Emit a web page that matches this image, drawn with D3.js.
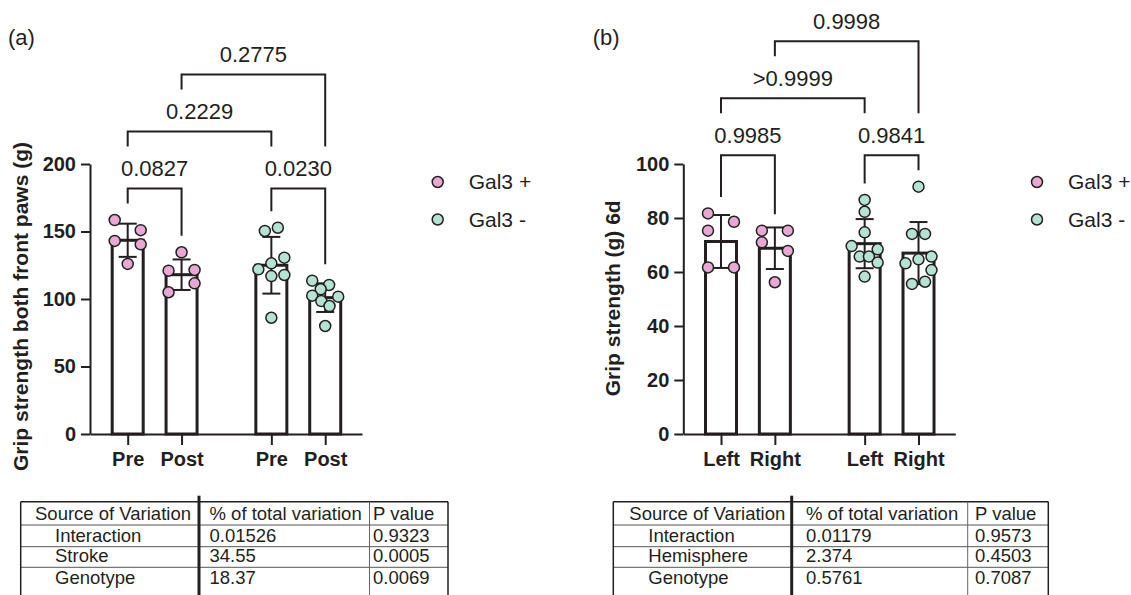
<!DOCTYPE html>
<html><head><meta charset="utf-8">
<script src="https://cdn.jsdelivr.net/npm/d3@7"></script>
<style>
body{margin:0;background:#fff}
svg{display:block}
text{font-family:"Liberation Sans",Arial,sans-serif;fill:#231f20}
</style>
</head><body>
<svg id="c" width="1131" height="595"></svg>
<script>
// ---------- DATA ----------
const genotypes = ["Gal3 +", "Gal3 -"];

// Panel (a)
const catsA = ["Pre", "Post", "Pre", "Post"];
const genoA = ["Gal3 +", "Gal3 +", "Gal3 -", "Gal3 -"];
const meansA = [143.5, 118, 125, 101];
const sdsA = [12.3, 11.3, 21, 10.6];
const pointsA = [
  [158.5, 151, 143, 140.5, 126],
  [134.6, 121, 121.5, 111.6, 105],
  [152.8, 150.4, 130.6, 126.4, 122, 117.8, 117, 86.1],
  [113.6, 110.4, 107.2, 101.7, 102.5, 98.5, 94.8, 80]
];
const jitterA = [
  [-1, 1, -1, 1, 0],
  [0, -1, 1, 1, -1],
  [0.5, -0.5, 1, 0, -1, 1, 0, 0],
  [-1, 0.3, -0.35, 1, -1, -0.3, 0.33, 0]
];
const ticksA = [0, 50, 100, 150, 200];
const compPairsA = [[0, 1], [2, 3], [0, 2], [1, 3]];
const compLabelsA = ["0.0827", "0.0230", "0.2229", "0.2775"];
const compLevelsA = [0, 0, 1, 2];

// Panel (b)
const catsB = ["Left", "Right", "Left", "Right"];
const genoB = ["Gal3 +", "Gal3 +", "Gal3 -", "Gal3 -"];
const meansB = [71.3, 68.8, 70.5, 67];
const sdsB = [9.8, 7.7, 9.1, 11.5];
const pointsB = [
  [81.7, 78.6, 75.3, 61.7, 61.7],
  [75.3, 75.3, 71, 67.8, 56.2],
  [86.7, 82.3, 74.7, 69.6, 68.4, 65.7, 65.7, 63.5, 58.3],
  [91.6, 74.1, 74.1, 65.7, 64.7, 63.2, 60.7, 56.4, 55.6]
];
const jitterB = [
  [-1, 1, -1, -1, 1],
  [-1, 1, -1, 1, 0],
  [0, 0, 0, -1, 1, -0.38, 0.33, 1, 0],
  [0, -0.5, 0.5, 1, 0, -1, 1, 0.5, -0.5]
];
const ticksB = [0, 20, 40, 60, 80, 100];
const compPairsB = [[0, 1], [2, 3], [0, 2], [1, 3]];
const compLabelsB = ["0.9985", "0.9841", ">0.9999", "0.9998"];
const compLevelsB = [0, 0, 1, 2];

// Tables
const tableHeader = ["Source of Variation", "% of total variation", "P value"];
const tableARows = [["Interaction", "0.01526", "0.9323"], ["Stroke", "34.55", "0.0005"], ["Genotype", "18.37", "0.0069"]];
const tableBRows = [["Interaction", "0.01179", "0.9573"], ["Hemisphere", "2.374", "0.4503"], ["Genotype", "0.5761", "0.7087"]];

// ---------- STYLE / LAYOUT ----------
const INK = "#231f20";
const color = d3.scaleOrdinal().domain(genotypes).range(["#e7a9d3", "#b5e2d2"]);
const GROUP_GAP = 0.667;
const Y0 = 434, Y1 = 164;
const R = 5.5, JIT = 13;

const svg = d3.select("#c");

function panel(cfg) {
  const g = svg.append("g");
  const x = d3.scaleLinear().domain([-0.7, 4.35]).range([cfg.x0, cfg.x0 + 272]);
  const y = d3.scaleLinear().domain([0, cfg.yMax]).range([Y0, Y1]);
  const pos = i => i + (i >= 2 ? GROUP_GAP : 0);
  const n = cfg.cats.length;
  const idx = d3.range(n);

  // bars
  g.selectAll("rect.bar").data(idx).join("rect")
    .attr("x", i => x(pos(i)) - 15.5)
    .attr("width", 31)
    .attr("y", i => y(cfg.means[i]))
    .attr("height", i => Y0 - y(cfg.means[i]))
    .attr("fill", "#fff").attr("stroke", INK).attr("stroke-width", 3);

  // error bars
  const eb = g.selectAll("g.eb").data(idx).join("g");
  eb.append("line")
    .attr("x1", i => x(pos(i))).attr("x2", i => x(pos(i)))
    .attr("y1", i => y(cfg.means[i] - cfg.sds[i])).attr("y2", i => y(cfg.means[i] + cfg.sds[i]))
    .attr("stroke", INK).attr("stroke-width", 2);
  [1, -1].forEach(s => {
    eb.append("line")
      .attr("x1", i => x(pos(i)) - 9).attr("x2", i => x(pos(i)) + 9)
      .attr("y1", i => y(cfg.means[i] + s * cfg.sds[i])).attr("y2", i => y(cfg.means[i] + s * cfg.sds[i]))
      .attr("stroke", INK).attr("stroke-width", 2);
  });

  // axes
  const ya = g.append("g").attr("transform", `translate(${cfg.x0},0)`)
    .call(d3.axisLeft(y).tickValues(cfg.ticks).tickSize(9).tickSizeOuter(0).tickPadding(5));
  const xa = g.append("g").attr("transform", `translate(0,${Y0})`)
    .call(d3.axisBottom(x).tickValues(idx.map(pos)).tickFormat((d, i) => cfg.cats[i]).tickSize(11).tickSizeOuter(0));
  [ya, xa].forEach(a => {
    a.select(".domain").attr("stroke", INK).attr("stroke-width", 2);
    a.selectAll(".tick line").attr("stroke", INK).attr("stroke-width", 2);
    a.selectAll(".tick text").attr("font-size", 20).attr("font-weight", "bold")
      .attr("font-family", '"Liberation Sans",Arial,sans-serif').attr("fill", INK);
  });
  xa.selectAll(".tick text").attr("y", 32).attr("dy", null);

  // dots
  idx.forEach(i => {
    g.selectAll(null).data(cfg.points[i]).join("circle")
      .attr("cx", (d, j) => x(pos(i)) + cfg.jitter[i][j] * JIT)
      .attr("cy", d => y(d))
      .attr("r", R)
      .attr("fill", color(cfg.geno[i]))
      .attr("stroke", INK).attr("stroke-width", 1.5);
  });

  // y label
  g.append("text")
    .attr("transform", `translate(${cfg.labelX},${cfg.labelY}) rotate(-90)`)
    .attr("text-anchor", "middle").attr("font-size", 21).attr("font-weight", "bold")
    .text(cfg.yLabel);

  // comparison brackets
  const legEnd0 = idx.map(i => Math.min(y(d3.max(cfg.points[i])) - R, y(cfg.means[i] + cfg.sds[i])) - 11);
  const lvl0Cols = [];
  cfg.pairs.forEach((p, k) => { if (cfg.levels[k] === 0) lvl0Cols.push(...p); });
  const level0Top = d3.min(lvl0Cols, c => legEnd0[c]) - 15;
  const levelTop = L => level0Top - 57 * L;
  const legEnd = (c, L) => {
    let best = -1;
    cfg.pairs.forEach((p, k) => {
      const lv = cfg.levels[k];
      if (lv < L && c >= Math.min(...p) && c <= Math.max(...p) && lv > best) best = lv;
    });
    return best < 0 ? legEnd0[c] : levelTop(best) - 42;
  };
  cfg.pairs.forEach((p, k) => {
    const L = cfg.levels[k];
    const top = levelTop(L);
    const xl = x(pos(p[0])), xr = x(pos(p[1]));
    g.append("path")
      .attr("d", `M${xl},${legEnd(p[0], L)}V${top}H${xr}V${legEnd(p[1], L)}`)
      .attr("fill", "none").attr("stroke", INK).attr("stroke-width", 2);
    g.append("text").attr("x", (xl + xr) / 2).attr("y", top - 12.5)
      .attr("text-anchor", "middle").attr("font-size", 22).text(cfg.labels[k]);
  });

  // legend
  genotypes.forEach((gt, k) => {
    const cy = 182 + k * 37.5;
    g.append("circle").attr("cx", cfg.legX).attr("cy", cy).attr("r", R)
      .attr("fill", color(gt)).attr("stroke", INK).attr("stroke-width", 1.5);
    g.append("text").attr("x", cfg.legX + 31).attr("y", cy + 7.3)
      .attr("font-size", 21).text(gt);
  });

  // panel tag
  g.append("text").attr("x", cfg.tagX).attr("y", 45).attr("font-size", 22).text(cfg.tag);
}

panel({x0: 90, yMax: 200, cats: catsA, geno: genoA, means: meansA, sds: sdsA, points: pointsA, jitter: jitterA,
  ticks: ticksA, pairs: compPairsA, labels: compLabelsA, levels: compLevelsA,
  yLabel: "Grip strength both front paws (g)", labelX: 28.3, labelY: 306.5, legX: 437.7, tag: "(a)", tagX: 8});
panel({x0: 683.3, yMax: 100, cats: catsB, geno: genoB, means: meansB, sds: sdsB, points: pointsB, jitter: jitterB,
  ticks: ticksB, pairs: compPairsB, labels: compLabelsB, levels: compLevelsB,
  yLabel: "Grip strength (g) 6d", labelX: 620, labelY: 298.3, legX: 1037, tag: "(b)", tagX: 592.7});

// ---------- TABLES ----------
function table(cols, txt, rows) {
  const g = svg.append("g");
  const rowY = [501.7, 525, 546.7, 567.3];
  const bottom = 596;
  const L = cols[0], R2 = cols[3];
  // horizontal lines
  g.append("line").attr("x1", L).attr("x2", R2).attr("y1", rowY[0]).attr("y2", rowY[0])
    .attr("stroke", INK).attr("stroke-width", 1.5);
  rowY.slice(1).forEach(yy => g.append("line").attr("x1", L).attr("x2", R2).attr("y1", yy).attr("y2", yy)
    .attr("stroke", "#555").attr("stroke-width", 1));
  // vertical lines
  g.append("line").attr("x1", L).attr("x2", L).attr("y1", rowY[0]).attr("y2", bottom).attr("stroke", INK).attr("stroke-width", 1.5);
  g.append("line").attr("x1", cols[1]).attr("x2", cols[1]).attr("y1", rowY[0] - 6).attr("y2", bottom).attr("stroke", INK).attr("stroke-width", 3);
  g.append("line").attr("x1", cols[2]).attr("x2", cols[2]).attr("y1", rowY[0]).attr("y2", bottom).attr("stroke", "#666").attr("stroke-width", 1);
  g.append("line").attr("x1", R2).attr("x2", R2).attr("y1", rowY[0]).attr("y2", bottom).attr("stroke", INK).attr("stroke-width", 1.5);
  const all = [tableHeader].concat(rows);
  all.forEach((r, ri) => {
    const base = (ri < 3 ? rowY[ri + 1] : rowY[3] + 21.5) - 5;
    r.forEach((t, ci) => {
      const xx = ci === 0 ? (ri === 0 ? txt[0] : txt[1]) : txt[ci + 1];
      g.append("text").attr("x", xx).attr("y", base).attr("font-size", 18.5).text(t);
    });
  });
}
table([20.7, 199, 369.5, 448], [35, 55, 209.5, 373], tableARows);
table([613.3, 791.7, 967.7, 1048.3], [629.3, 648.3, 806, 975], tableBRows);
</script>
</body></html>
